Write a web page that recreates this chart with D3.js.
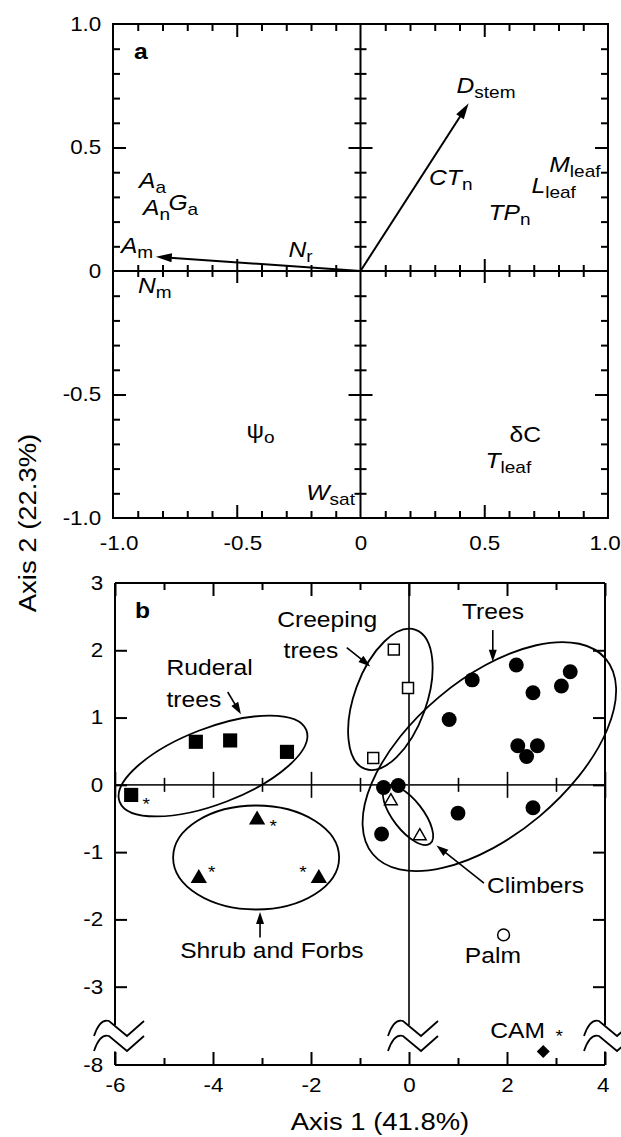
<!DOCTYPE html>
<html>
<head>
<meta charset="utf-8">
<script src="https://cdn.jsdelivr.net/npm/d3@7"></script>
<style>
  body { margin: 0; background: #fff; }
  svg text { font-family: "Liberation Sans", Arial, Helvetica, sans-serif; fill: #000; }
</style>
</head>
<body>
<svg id="chart" width="621" height="1137"></svg>
<script>
// ---------- panel a: variable loadings ----------
const loadingArrows = [
  { name: 'Dstem', x: 0.437, y: 0.679 },
  { name: 'Am', x: -0.827, y: 0.058 }
];
// [main, subscript, x, y, italic]
const loadingLabels = [
  ['D', 'stem', 0.388, 0.721, true],
  ['A', 'm', -0.968, 0.073, true],
  ['N', 'r', -0.291, 0.058, true],
  ['A', 'a', -0.895, 0.336, true],
  ['A', 'n', -0.879, 0.227, true],
  ['G', 'a', -0.776, 0.247, true],
  ['N', 'm', -0.899, -0.089, true],
  ['CT', 'n', 0.277, 0.348, true],
  ['M', 'leaf', 0.763, 0.402, true],
  ['L', 'leaf', 0.691, 0.316, true],
  ['TP', 'n', 0.517, 0.206, true],
  ['\u03c8', 'o', -0.461, -0.677, false],
  ['\u03b4C', '', 0.602, -0.691, false],
  ['T', 'leaf', 0.505, -0.798, true],
  ['W', 'sat', -0.219, -0.927, true]
];
const aTicks = [-1, -0.5, 0, 0.5, 1];

// ---------- panel b: species scores ----------
const ruderal = [[-4.35, 0.64], [-3.65, 0.66], [-2.49, 0.49], [-5.67, -0.15]];
const creeping = [[-0.31, 2.01], [-0.02, 1.44], [-0.73, 0.40]];
const trees = [[2.19, 1.78], [1.29, 1.56], [3.29, 1.68], [3.11, 1.47], [2.53, 1.37],
  [0.82, 0.97], [2.22, 0.58], [2.62, 0.58], [2.40, 0.42], [-0.52, -0.04],
  [-0.22, -0.01], [1.00, -0.42], [2.53, -0.34], [-0.56, -0.73]];
const climbers = [[-0.37, -0.24], [0.22, -0.76]];
const shrubs = [[-3.10, -0.52], [-4.29, -1.39], [-1.84, -1.39]];
const palm = [[1.93, -2.23]];
const cam = [[2.74, -7.80]];
// points flagged with an asterisk: [x, y, dx, dy]
const starred = [[-5.67, -0.15, 15, 6], [-3.10, -0.52, 16, 3], [-4.29, -1.39, 13, -9],
  [-1.84, -1.39, -16, -9], [2.74, -7.80, 16, -19]];
const bxTicks = [-6, -4, -2, 0, 2, 4];
const byTicks = [3, 2, 1, 0, -1, -2, -3, -8];

// group outlines: centre in axis units, radii in px, rotation in degrees
const groups = [
  { name: 'ruderal', cx: -4.0, cy: 0.28, rx: 100, ry: 38, rot: -21 },
  { name: 'creeping', cx: -0.38, cy: 1.27, rx: 74, ry: 36, rot: -70 },
  { name: 'trees', cx: 1.64, cy: 0.42, rx: 152, ry: 78, rot: -40 },
  { name: 'climbers', cx: -0.02, cy: -0.45, rx: 36, ry: 15, rot: 52 },
  { name: 'shrubs', cx: -3.12, cy: -1.08, rx: 83, ry: 52, rot: 0 }
];
// group captions: [text, x, y]
const captions = [
  ['Ruderal', -4.95, 1.63], ['trees', -4.95, 1.16],
  ['Creeping', -2.69, 2.35], ['trees', -2.56, 1.88],
  ['Trees', 1.08, 2.46], ['Climbers', 1.59, -1.61],
  ['Shrub and Forbs', -4.67, -2.58], ['Palm', 1.14, -2.65]
];
// caption pointers: [x1, y1, x2, y2]
const pointers = [
  [-3.70, 1.38, -3.43, 1.05], [-1.27, 2.04, -0.79, 1.76], [1.71, 2.30, 1.71, 1.83],
  [1.53, -1.46, 0.56, -0.90], [-3.04, -2.27, -3.04, -1.89]
];

const SX = 1.12; // the original lettering is slightly wide
const svg = d3.select('#chart');

function txt(g, x, y, s, size, anchor, weight) {
  return g.append('text')
    .attr('transform', `translate(${x},${y}) scale(${SX},1)`)
    .attr('font-size', size)
    .attr('text-anchor', anchor || 'start')
    .attr('font-weight', weight || null)
    .text(s);
}
function subTxt(g, x, y, main, sub, italic) {
  const t = g.append('text')
    .attr('transform', `translate(${x},${y}) scale(${SX},1)`)
    .attr('font-size', 22);
  t.append('tspan').attr('font-style', italic ? 'italic' : null).text(main);
  if (sub) t.append('tspan').attr('font-size', 17).attr('dy', 5).text(sub);
}
function arrow(g, x1, y1, x2, y2, len, wid, sw) {
  const a = Math.atan2(y2 - y1, x2 - x1), c = Math.cos(a), s = Math.sin(a);
  const bx = x2 - c * len, by = y2 - s * len;
  g.append('line').attr('x1', x1).attr('y1', y1).attr('x2', bx + c * 2).attr('y2', by + s * 2)
    .attr('stroke', '#000').attr('stroke-width', sw);
  g.append('path')
    .attr('d', `M${x2},${y2}L${bx - s * wid / 2},${by + c * wid / 2}L${bx + s * wid / 2},${by - c * wid / 2}Z`)
    .attr('fill', '#000');
}
function ticks(g, gen, scale, values, size, tx, ty, sw) {
  g.append('g').attr('transform', `translate(${tx},${ty})`)
    .call(gen(scale).tickValues(values).tickSize(size).tickFormat(''))
    .call(a => {
      a.select('.domain').remove();
      a.selectAll('line').attr('stroke', '#000').attr('stroke-width', sw || 2);
    });
}
function labels(g, gen, scale, values, pad, tx, ty, fmt, dx) {
  g.append('g').attr('transform', `translate(${tx},${ty})`)
    .call(gen(scale).tickValues(values).tickSize(0).tickPadding(pad).tickFormat(fmt))
    .call(a => {
      a.select('.domain').remove();
      a.attr('font-size', 20).attr('font-family', null);
      a.selectAll('text').attr('transform', `scale(${SX},1)`)
        .attr('dx', d => dx ? dx(d) : 0);
    });
}
function hline(g, x1, x2, y, sw, col) {
  g.append('line').attr('x1', x1).attr('x2', x2).attr('y1', y).attr('y2', y)
    .attr('stroke', col || '#000').attr('stroke-width', sw || 2);
}
function vline(g, x, y1, y2, sw, col) {
  g.append('line').attr('x1', x).attr('x2', x).attr('y1', y1).attr('y2', y2)
    .attr('stroke', col || '#000').attr('stroke-width', sw || 2);
}

// ================= panel a =================
const xA = d3.scaleLinear().domain([-1, 1]).range([113, 608]);
const yA = d3.scaleLinear().domain([-1, 1]).range([518, 24]);
const ga = svg.append('g');
const tenth = d3.range(-10, 11).map(i => i / 10);
const minorA = tenth.filter(v => Math.round(v * 10) % 5 !== 0);
const majorA = [-0.5, 0.5];

ga.append('rect').attr('x', xA(-1)).attr('y', yA(1))
  .attr('width', xA(1) - xA(-1)).attr('height', yA(-1) - yA(1))
  .attr('fill', 'none').attr('stroke', '#000').attr('stroke-width', 2);
hline(ga, xA(-1), xA(1), yA(0));
vline(ga, xA(0), yA(1), yA(-1));

// frame ticks, pointing inwards
ticks(ga, d3.axisTop, xA, minorA, -7, 0, yA(1));
ticks(ga, d3.axisTop, xA, majorA, -13, 0, yA(1));
ticks(ga, d3.axisBottom, xA, minorA, -7, 0, yA(-1));
ticks(ga, d3.axisBottom, xA, majorA, -13, 0, yA(-1));
ticks(ga, d3.axisLeft, yA, minorA, -7, xA(-1), 0);
ticks(ga, d3.axisLeft, yA, majorA, -13, xA(-1), 0);
ticks(ga, d3.axisRight, yA, minorA, -7, xA(1), 0);
ticks(ga, d3.axisRight, yA, majorA, -13, xA(1), 0);
// crossing ticks on the zero lines
[6, -6].forEach(s => {
  ticks(ga, d3.axisBottom, xA, minorA, s, 0, yA(0));
  ticks(ga, d3.axisLeft, yA, minorA, s, xA(0), 0);
});
[12, -12].forEach(s => {
  ticks(ga, d3.axisBottom, xA, majorA, s, 0, yA(0));
  ticks(ga, d3.axisLeft, yA, majorA, s, xA(0), 0);
});

const fmtA = d => d === 0 ? '0' : d.toFixed(1);
labels(ga, d3.axisLeft, yA, aTicks, 10.5, xA(-1), 0, fmtA);
labels(ga, d3.axisBottom, xA, aTicks, 17.5, 0, yA(-1), fmtA,
  d => d < 0 ? 5 : (d === 1 ? -3 : 0));

loadingArrows.forEach(d => arrow(ga, xA(0), yA(0), xA(d.x), yA(d.y), 16, 9, 2));
loadingLabels.forEach(d => subTxt(ga, xA(d[2]), yA(d[3]), d[0], d[1], d[4]));
txt(ga, 134, 59, 'a', 22, 'start', 'bold');

// ================= panel b =================
const xB = d3.scaleLinear().domain([-6, 4]).range([115, 605]);
// broken axis: -7.57 .. -3.51 squeezed into the break
const yB = d3.scaleLinear().domain([-8, -7.57, -3.51, 3]).range([1065, 1036, 1021, 583]);
const gb = svg.append('g');
const unitsX = d3.range(-6, 5);
const oddX = unitsX.filter(v => Math.abs(v) % 2 === 1);
const evenX = unitsX.filter(v => v % 2 === 0);
const breakY = yB(-3.51) + 4;

hline(gb, xB(-6), xB(4), yB(3));
vline(gb, xB(-6), yB(3), breakY);
vline(gb, xB(4), yB(3), breakY);
vline(gb, xB(0), yB(3), breakY, 1.6);
hline(gb, xB(-6), xB(4), yB(0), 1.6, '#222');
hline(gb, xB(-6), xB(4), yB(-8));
vline(gb, xB(-6), yB(-7.8), yB(-8));
vline(gb, xB(4), yB(-7.8), yB(-8));

ticks(gb, d3.axisTop, xB, oddX, -7, 0, yB(3));
ticks(gb, d3.axisTop, xB, evenX, -13, 0, yB(3));
ticks(gb, d3.axisBottom, xB, oddX, -7, 0, yB(-8));
ticks(gb, d3.axisBottom, xB, evenX, -13, 0, yB(-8));
const unitsY = [2, 1, 0, -1, -2, -3];
ticks(gb, d3.axisLeft, yB, unitsY, -12, xB(-6), 0);
ticks(gb, d3.axisRight, yB, unitsY, -12, xB(4), 0);
[7, -7].forEach(s => ticks(gb, d3.axisBottom, xB, oddX, s, 0, yB(0), 1.6));
[13, -13].forEach(s => ticks(gb, d3.axisBottom, xB, evenX.filter(v => v !== 0), s, 0, yB(0), 1.6));

labels(gb, d3.axisLeft, yB, byTicks, 10.5, xB(-6), 0, d => String(d));
labels(gb, d3.axisBottom, xB, bxTicks, 12.5, 0, yB(-8), d => String(d),
  d => d === 4 ? -2 : 0);

// axis break marks
[-6, 0, 4].forEach(v => {
  [yB(-3.51), yB(-7.57)].forEach(y0 => {
    gb.append('path')
      .attr('transform', `translate(${xB(v)},${y0})`)
      .attr('d', 'M-21,15Q-15,-3 -6,0L12,15L29,0')
      .attr('fill', 'none').attr('stroke', '#000').attr('stroke-width', 1.8);
  });
});

// group outlines
gb.selectAll('ellipse.grp').data(groups).join('ellipse')
  .attr('class', 'grp')
  .attr('transform', d => `translate(${xB(d.cx)},${yB(d.cy)}) rotate(${d.rot})`)
  .attr('rx', d => d.rx).attr('ry', d => d.ry)
  .attr('fill', 'none').attr('stroke', '#000').attr('stroke-width', 1.8);

// markers
const sym = (type, size) => d3.symbol().type(type).size(size)();
function plot(data, type, size, filled, rot) {
  gb.append('g').selectAll('path').data(data).join('path')
    .attr('transform', d => `translate(${xB(d[0])},${yB(d[1])}) rotate(${rot || 0})`)
    .attr('d', sym(type, size))
    .attr('fill', filled ? '#000' : '#fff')
    .attr('stroke', '#000').attr('stroke-width', filled ? 0 : 1.5);
}
plot(trees, d3.symbolCircle, 175, true);
plot(ruderal, d3.symbolSquare, 200, true);
plot(creeping, d3.symbolSquare, 120, false);
plot(climbers, d3.symbolTriangle, 70, false);
plot(shrubs, d3.symbolTriangle, 115, true);
plot(palm, d3.symbolCircle, 110, false);
plot(cam, d3.symbolSquare, 85, true, 45);

starred.forEach(d => txt(gb, xB(d[0]) + d[2], yB(d[1]) + d[3] + 9, '*', 17, 'middle'));

captions.forEach(d => txt(gb, xB(d[1]), yB(d[2]), d[0], 22));
txt(gb, xB(cam[0][0]) - 53, yB(cam[0][1]) - 14, 'CAM', 22);
pointers.forEach(d => arrow(gb, xB(d[0]), yB(d[1]), xB(d[2]), yB(d[3]), 12, 8, 1.6));
txt(gb, 135, 618, 'b', 22, 'start', 'bold');

// axis titles
txt(svg, 380, 1130, 'Axis 1 (41.8%)', 24.5, 'middle');
svg.append('text')
  .attr('transform', `translate(36,523) rotate(-90) scale(${SX},1)`)
  .attr('font-size', 24.5).attr('text-anchor', 'middle')
  .text('Axis 2 (22.3%)');
</script>
</body>
</html>
